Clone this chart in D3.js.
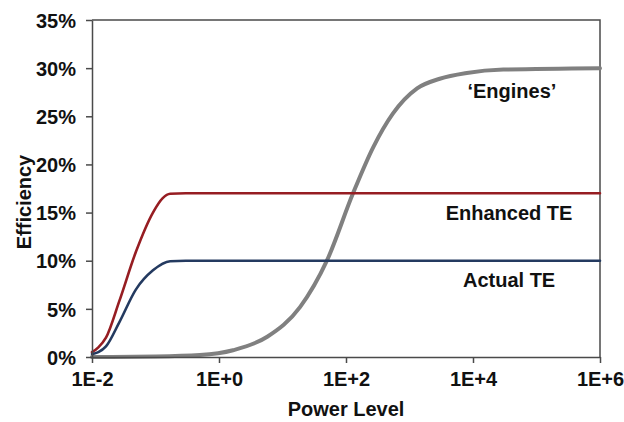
<!DOCTYPE html>
<html>
<head>
<meta charset="utf-8">
<script src="https://cdn.jsdelivr.net/npm/d3@7"></script>
<style>
  body { margin: 0; background: #fff; }
  text { font-family: "Liberation Sans", Arial, sans-serif; font-weight: bold; }
</style>
</head>
<body>
<div id="wrapper"></div>
<script>
// values (power level, efficiency %)
const enhancedPower = [0.01, 0.0126, 0.0166, 0.0269, 0.049, 0.0912, 0.13, 0.17, 0.3, 1e6];
const enhancedEff   = [0.5, 1.0, 2.0, 5.8, 10.9, 15.0, 16.5, 16.95, 17.0, 17.0];

const actualPower = [0.01, 0.0126, 0.0166, 0.0269, 0.049, 0.0912, 0.17, 0.3, 1e6];
const actualEff   = [0.3, 0.5, 1.1, 3.6, 7.0, 9.0, 9.95, 10.0, 10.0];

const enginePower = [0.01, 0.1, 0.5, 1.66, 5.75, 19, 50, 129, 269, 550, 1318, 3000, 8000, 30000, 1e6];
const engineEff   = [0, 0.05, 0.2, 0.7, 2.1, 5.2, 10.0, 17.0, 21.8, 25.3, 27.9, 28.9, 29.5, 29.85, 30.0];

const xTicks = [1e-2, 1e0, 1e2, 1e4, 1e6];
const xTickLabels = ["1E-2", "1E+0", "1E+2", "1E+4", "1E+6"];
const yTicks = [0, 5, 10, 15, 20, 25, 30, 35];

const seriesLabels = ["\u2018Engines\u2019", "Enhanced TE", "Actual TE"];
const labelPower = [4.1e4, 3.7e4, 3.7e4];
const labelEff = [26.9, 14.2, 7.3];

function drawChart(){
	const dimensions = {
		width: 624,
		height: 422,
		margin: { top: 20, right: 24, bottom: 65, left: 92 }
	};
	dimensions.boundedWidth = dimensions.width - dimensions.margin.left - dimensions.margin.right;
	dimensions.boundedHeight = dimensions.height - dimensions.margin.top - dimensions.margin.bottom;

	const wrapper = d3.select("#wrapper").append("svg")
		.attr("width", dimensions.width)
		.attr("height", dimensions.height);

	const bounds = wrapper.append("g")
		.attr("transform", `translate(${dimensions.margin.left},${dimensions.margin.top})`);

	const xScaler = d3.scaleLog()
		.domain([1e-2, 1e6])
		.range([0, dimensions.boundedWidth]);

	const yScaler = d3.scaleLinear()
		.domain([0, 35])
		.range([dimensions.boundedHeight, 0]);

	const frameColor = "#4a4a4a";

	// frame (top and right)
	bounds.append("path")
		.attr("d", `M0,0H${dimensions.boundedWidth}V${dimensions.boundedHeight}`)
		.attr("fill", "none")
		.attr("stroke", frameColor)
		.attr("stroke-width", 1.5);

	const line = d3.line()
		.x(d => xScaler(d[0]))
		.y(d => yScaler(d[1]))
		.curve(d3.curveMonotoneX);

	const series = [
		{ pts: d3.zip(enginePower, engineEff), color: "#808080", w: 4 },
		{ pts: d3.zip(enhancedPower, enhancedEff), color: "#961d22", w: 2.6 },
		{ pts: d3.zip(actualPower, actualEff), color: "#243a60", w: 2.6 }
	];

	bounds.selectAll(".series")
		.data(series)
		.enter()
		.append("path")
		.attr("class", "series")
		.attr("d", d => line(d.pts))
		.attr("fill", "none")
		.attr("stroke", d => d.color)
		.attr("stroke-width", d => d.w)
		.attr("stroke-linecap", "round");

	const xAxisGen = d3.axisBottom(xScaler)
		.tickValues(xTicks)
		.tickFormat((d, i) => xTickLabels[i])
		.tickSizeInner(6)
		.tickSizeOuter(0)
		.tickPadding(7);
	const yAxisGen = d3.axisLeft(yScaler)
		.tickValues(yTicks)
		.tickFormat(d => d + "%")
		.tickSizeInner(6)
		.tickSizeOuter(0)
		.tickPadding(10);

	const axisX = bounds.append("g")
		.attr("transform", `translate(0,${dimensions.boundedHeight})`)
		.call(xAxisGen);
	const axisY = bounds.append("g").call(yAxisGen);

	[axisX, axisY].forEach(ax => {
		ax.select(".domain").attr("stroke", frameColor).attr("stroke-width", 1.5);
		ax.selectAll(".tick line").attr("stroke", frameColor).attr("stroke-width", 1.5);
		ax.selectAll(".tick text")
			.attr("fill", "#111")
			.attr("font-size", "20px")
			.attr("font-family", null);
	});
	axisX.selectAll(".tick text").attr("dy", "0.8em");
	axisY.selectAll(".tick text").attr("dy", "0.36em");

	// axis titles
	wrapper.append("text")
		.attr("x", dimensions.margin.left + dimensions.boundedWidth / 2)
		.attr("y", 416)
		.attr("text-anchor", "middle")
		.attr("font-size", "20px")
		.attr("fill", "#111")
		.text("Power Level");

	wrapper.append("text")
		.attr("transform", "translate(31,202) rotate(-90)")
		.attr("text-anchor", "middle")
		.attr("font-size", "20px")
		.attr("fill", "#111")
		.text("Efficiency");

	// series labels
	bounds.selectAll(".label")
		.data(seriesLabels)
		.enter()
		.append("text")
		.attr("class", "label")
		.attr("x", (d, i) => xScaler(labelPower[i]))
		.attr("y", (d, i) => yScaler(labelEff[i]))
		.attr("text-anchor", "middle")
		.attr("font-size", "20px")
		.attr("fill", "#111")
		.text(d => d);
}

drawChart();
</script>
</body>
</html>
